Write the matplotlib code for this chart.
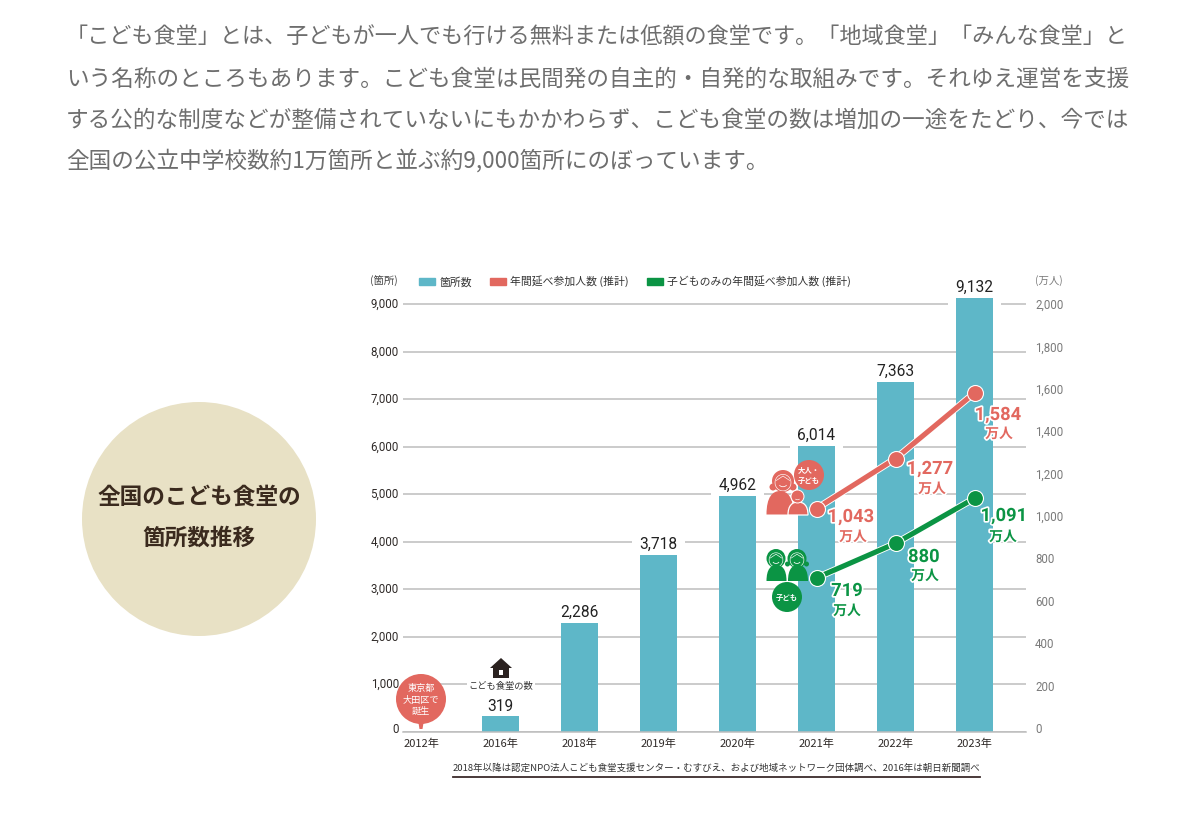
import matplotlib
matplotlib.use("Agg")
import matplotlib.pyplot as plt
import matplotlib.patheffects as pe
from matplotlib.patches import Circle, Polygon, Rectangle, Arc, PathPatch, Patch
from matplotlib.path import Path
from matplotlib.transforms import ScaledTranslation

JP = ["Noto Sans CJK JP", "DejaVu Sans"]
NUM = ["Roboto", "Noto Sans CJK JP"]
plt.rcParams["font.family"] = JP

# ---- data ----
years = ["2012年", "2016年", "2018年", "2019年", "2020年", "2021年", "2022年", "2023年"]
places = [None, 319, 2286, 3718, 4962, 6014, 7363, 9132]
line_years = ["2021年", "2022年", "2023年"]
participants = [1043, 1277, 1584]
children = [719, 880, 1091]
left_ticks = [0, 1000, 2000, 3000, 4000, 5000, 6000, 7000, 8000, 9000]
right_ticks = [0, 200, 400, 600, 800, 1000, 1200, 1400, 1600, 1800, 2000]
intro_first = "「こども食堂」とは、子どもが一人でも行ける無料または低額の食堂です。「地域食堂」「みんな食堂」と"
intro_rest = [
    "いう名称のところもあります。こども食堂は民間発の自主的・自発的な取組みです。それゆえ運営を支援",
    "する公的な制度などが整備されていないにもかかわらず、こども食堂の数は増加の一途をたどり、今では",
    "全国の公立中学校数約1万箇所と並ぶ約9,000箇所にのぼっています。",
]
source = "2018年以降は認定NPO法人こども食堂支援センター・むすびえ、および地域ネットワーク団体調べ、2016年は朝日新聞調べ"

TEAL, RED, GREEN = "#5eb7c8", "#e2685f", "#0b9444"
DARK, GRAY, GRID = "#2f2a28", "#7a7a7a", "#bdbdbd"
W, H = 1200, 834

fig = plt.figure(figsize=(W / 100, H / 100), dpi=100, facecolor="white")

# plot area, in pixels of the page
L, R, Y0 = 403, 1026, 731.5
PX1000 = 47.5
YMAX = 9500
TOP = Y0 - YMAX * PX1000 / 1000
ax = fig.add_axes([L / W, 1 - Y0 / H, (R - L) / W, (Y0 - TOP) / H])
ax.set_xlim((L - 421.5) / 79, (R - 421.5) / 79)
ax.set_ylim(0, YMAX)
ax2 = ax.twinx()
ax2.set_ylim(0, YMAX * 2000 / 9000)
ax2.patch.set_visible(False)
for a in (ax, ax2):
    for s in a.spines.values():
        s.set_visible(False)
ax.spines["bottom"].set_visible(True)
ax.spines["bottom"].set_color(GRID)
ax.spines["bottom"].set_linewidth(1.1)

ax.set_axisbelow(True)
ax.yaxis.grid(True, color=GRID, lw=1.1)
xpos = list(range(len(years)))
ax.set_xticks(xpos, years)
ax.set_yticks(left_ticks, [f"{v:,}" for v in left_ticks])
ax2.set_yticks(right_ticks, [f"{v:,}" for v in right_ticks])
ax.tick_params(axis="x", length=0, pad=5, labelsize=8, labelcolor=DARK)
ax.tick_params(axis="y", length=0, pad=3, labelsize=8.3, labelcolor=DARK)
ax2.tick_params(axis="y", length=0, pad=6.5, labelsize=8.3, labelcolor=GRAY)
for lab, v in zip(ax.get_yticklabels(), left_ticks):
    lab.set_family(NUM)
    dy = 3.5 if v == 0 else 1
    lab.set_transform(lab.get_transform() + ScaledTranslation(0, dy / 100, fig.dpi_scale_trans))
for lab, v in zip(ax2.get_yticklabels(), right_ticks):
    lab.set_family(NUM)
    dy = 3.5 * (1 - v / 2000)
    lab.set_transform(lab.get_transform() + ScaledTranslation(0, dy / 100, fig.dpi_scale_trans))

# bars, with a white gap in the grid around each value label
bar_x = [x for x, v in zip(xpos, places) if v is not None]
bar_v = [v for v in places if v is not None]
bars = ax.bar(bar_x, bar_v, width=37 / 79, color=TEAL, zorder=2, label="箇所数")
for x, v in zip(bar_x, bar_v):
    ax.add_patch(Rectangle((x - 26.5 / 79, v - 200), 53 / 79, 700, fc="white", ec="none", zorder=1))
    ax.annotate(f"{v:,}", (x, v), xytext=(0, 2), textcoords="offset points", ha="center", va="bottom",
                fontsize=11.2, family=NUM, color="#222222", zorder=5)

# lines
lx = [years.index(y) for y in line_years]
halo = [pe.Stroke(linewidth=5.0, foreground="white"), pe.Normal()]
for vals, col, z in ((participants, RED, 6), (children, GREEN, 6)):
    ax2.plot(lx, vals, color=col, lw=3.7, zorder=z, path_effects=halo, solid_capstyle="round")
    ax2.plot(lx, vals, ls="none", marker="o", ms=11.5, mfc=col, mec="white", mew=0.8, zorder=z + 1)

# legend
handles = [Patch(color=TEAL, label="箇所数"),
           Patch(color=RED, label="年間延べ参加人数 (推計)"),
           Patch(color=GREEN, label="子どものみの年間延べ参加人数 (推計)")]
leg = fig.legend(handles=handles, ncol=3, loc="center left", bbox_to_anchor=(419 / W, 1 - 281.5 / H),
                 frameon=False, fontsize=7.8, borderpad=0, borderaxespad=0, handlelength=1.5,
                 handleheight=0.74, handletextpad=0.38, columnspacing=1.65, labelcolor="#333333")

# page overlay in pixel coordinates: text block, circle, icons
ov = fig.add_axes([0, 0, 1, 1], zorder=10)
ov.set_xlim(0, W)
ov.set_ylim(H, 0)
ov.axis("off")
ov.patch.set_visible(False)

BODY = dict(color="#6e6e6e", va="center", ha="left")
ov.text(66, 38, intro_first, fontsize=15.95, **BODY)
for y, line in zip((79, 120, 161), intro_rest):
    ov.text(66, y, line, fontsize=16.27, **BODY)

ov.add_patch(Circle((199, 519), 117, fc="#e8e1c5", ec="none", zorder=0))
ov.text(199, 497, "全国のこども食堂の", fontsize=16.3, weight="bold", color="#3a2a1e", ha="center", va="center")
ov.text(199, 538, "箇所数推移", fontsize=16.3, weight="bold", color="#3a2a1e", ha="center", va="center")

ov.text(370, 281, "(箇所)", fontsize=7.5, color="#444444", ha="left", va="center")
ov.text(1035, 281, "(万人)", fontsize=7.5, color=GRAY, ha="left", va="center")

# source
ov.text(716.5, 768, source, fontsize=6.82, color="#333333", ha="center", va="center")
ov.plot([453, 980], [777, 777], color="#3b2b2b", lw=1.3)

# value labels for the lines
stroke = [pe.withStroke(linewidth=2.4, foreground="white")]
def vlabel(val, col, x, y, xu, yu):
    ov.text(x, y, f"{val:,}", fontsize=13.2, weight="bold", family=NUM, color=col, ha="center", va="center",
            path_effects=stroke, zorder=8)
    ov.text(xu, yu, "万人", fontsize=10, weight="bold", color=col, ha="center", va="center",
            path_effects=stroke, zorder=8)
for v, p in zip(participants, [(851, 517, 853, 537), (930, 469, 932, 489), (998, 415, 999, 434)]):
    vlabel(v, RED, *p)
for v, p in zip(children, [(847, 591, 847, 611), (924, 557, 925, 576), (1004, 516, 1003, 537)]):
    vlabel(v, GREEN, *p)

# balloon 2012
ov.add_patch(Polygon([[418, 720], [424, 720], [422.5, 729], [419.5, 729]], fc=RED, ec="none"))
ov.add_patch(Circle((421, 699), 25, fc=RED, ec="none"))
for y, t in zip((688, 700, 711), ("東京都", "大田区で", "誕生")):
    ov.text(421, y, t, fontsize=6.6, color="white", ha="center", va="center")

# house + caption 2016
ov.add_patch(Polygon([[501, 658], [512, 668], [509, 668], [509, 678], [493, 678], [493, 668], [490, 668]],
                     fc="#2b2220", ec="none"))
ov.add_patch(Rectangle((498.5, 670), 4.5, 4.5, fc="white", ec="none"))
ov.text(501, 687, "こども食堂の数", fontsize=6.7, color="#333333", ha="center", va="center",
        bbox=dict(fc="white", ec="none", pad=1.5))

# people icons
def dome(cx, top, bot, hw, col, edge="none"):
    verts = [(cx - hw, bot), (cx - hw, top + (bot - top) * 0.25), (cx - hw * 0.55, top), (cx, top),
             (cx + hw * 0.55, top), (cx + hw, top + (bot - top) * 0.25), (cx + hw, bot), (cx - hw, bot)]
    codes = [Path.MOVETO, Path.CURVE4, Path.CURVE4, Path.CURVE4,
             Path.CURVE4, Path.CURVE4, Path.CURVE4, Path.CLOSEPOLY]
    ov.add_patch(PathPatch(Path(verts, codes), fc=col, ec=edge, lw=0.9))

def face(cx, cy, r, col, hair=True):
    ov.add_patch(Circle((cx, cy), r, fc=col, ec="none"))
    ov.add_patch(Arc((cx, cy + r * 0.15), r * 1.45, r * 1.5, theta1=0, theta2=360, ec="white", lw=0.45))
    ov.add_patch(Arc((cx, cy + r * 0.22), r * 0.75, r * 0.6, theta1=25, theta2=155, ec="white", lw=0.55))
    if hair:
        ov.plot([cx - r * 0.6, cx, cx + r * 0.6], [cy - r * 0.05, cy - r * 0.45, cy - r * 0.05],
                color="white", lw=0.45)

# woman and child
ov.add_patch(Circle((773, 487), 3.5, fc=RED, ec="none"))
ov.add_patch(Circle((793, 487), 3.5, fc=RED, ec="none"))
face(783, 481, 11, RED)
dome(780, 491, 514.5, 13.5, RED)
dome(798, 502, 515, 10, RED, edge="white")
ov.add_patch(Circle((797.5, 496.5), 6.5, fc=RED, ec="white", lw=0.7))
ov.add_patch(Arc((797.5, 498), 5, 3.5, theta1=25, theta2=155, ec="white", lw=0.45))
ov.add_patch(Circle((809, 475), 15, fc=RED, ec="none"))
ov.text(809, 470, "大人・", fontsize=5.3, weight="bold", color="white", ha="center", va="center")
ov.text(809, 480, "子ども", fontsize=5.3, weight="bold", color="white", ha="center", va="center")

# two children
face(776, 558.5, 9.5, GREEN)
dome(776.5, 565, 581, 10, GREEN)
ov.add_patch(Circle((787.5, 564), 2.5, fc=GREEN, ec="none"))
ov.add_patch(Circle((806.5, 564), 2.5, fc=GREEN, ec="none"))
face(797, 558.5, 9.5, GREEN)
dome(798, 565, 581, 10, GREEN)
ov.add_patch(Circle((787, 597), 15, fc=GREEN, ec="none"))
ov.text(787, 597, "子ども", fontsize=5.3, weight="bold", color="white", ha="center", va="center")

fig.savefig("out.png", dpi=100, facecolor="white")
